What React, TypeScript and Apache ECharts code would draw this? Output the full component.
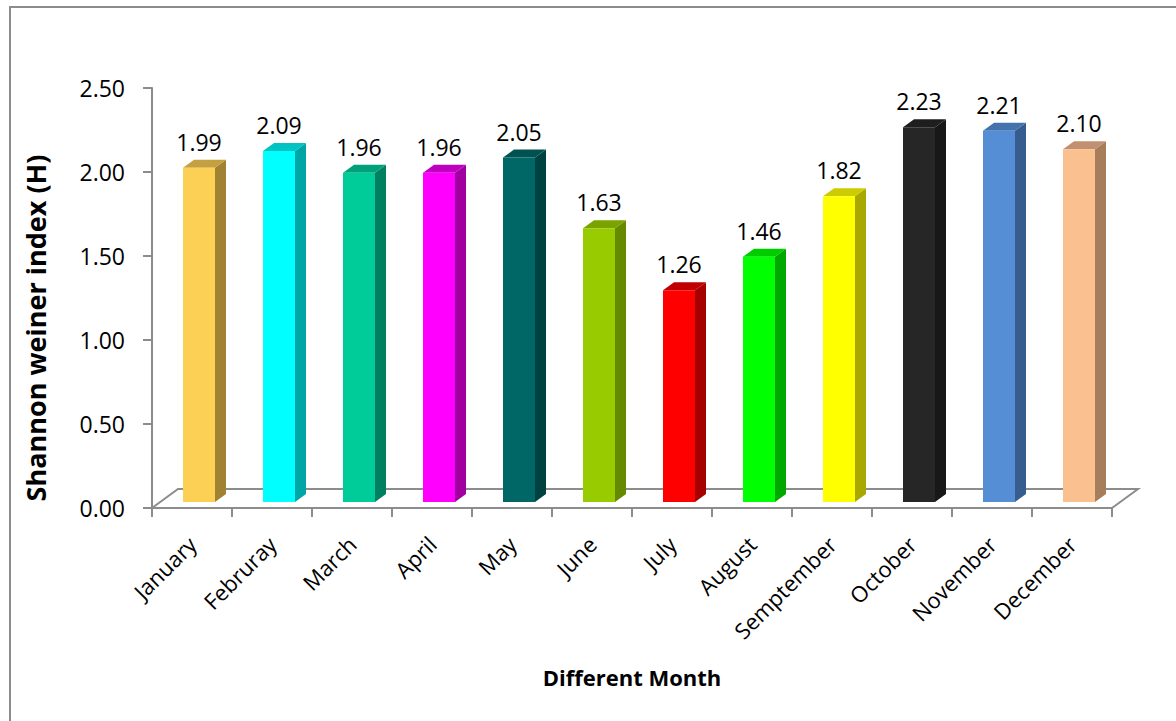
import React, { useEffect, useRef } from "react";
import * as echarts from "echarts";

const months = [
  "January", "Februray", "March", "April", "May", "June",
  "July", "August", "Semptember", "October", "November", "December",
];
const shannonIndex = [1.99, 2.09, 1.96, 1.96, 2.05, 1.63, 1.26, 1.46, 1.82, 2.23, 2.21, 2.1];
const frontColors = [
  "#FCD055", "#00FFFF", "#00CC99", "#FF00FF", "#006666", "#99CC00",
  "#FF0000", "#00FF00", "#FFFF00", "#262626", "#558ED5", "#FAC090",
];
const sideColors = [
  "#A08232", "#00A6A6", "#008060", "#A000A0", "#004242", "#658A00",
  "#A60000", "#00A800", "#A8A800", "#181818", "#375D8F", "#A67E5C",
];
const topColors = [
  "#C4A040", "#00C4C4", "#00A07A", "#C000C0", "#005252", "#7AA300",
  "#C00000", "#00CC00", "#CCCC00", "#1E1E1E", "#4372AD", "#C09070",
];
const yTicks = [0, 0.5, 1, 1.5, 2, 2.5];
const yTitle = "Shannon weiner index (H)";
const xTitle = "Different Month";

const FONT = "'Open Sans', sans-serif";
const AXIS_GRAY = "#8C8C8C";

// depth offset of the pseudo-3D bars and of the floor
const BAR_DX = 11;
const BAR_DY = 8;
const FLOOR_DX = 26;
const FLOOR_DY = 19;
const BAR_LIFT = 6;

export default function App() {
  const ref = useRef<HTMLDivElement>(null);

  useEffect(() => {
    if (!ref.current) return;
    const chart = echarts.init(ref.current, null, { renderer: "svg" });

    const renderItem = (params: any, api: any) => {
      const i = api.value(0);
      const v = api.value(1);
      const top = api.coord([i, v]);
      const base = api.coord([i, 0]);
      const xl = top[0] - 9;
      const xr = top[0] + 23;
      const yt = top[1] - BAR_LIFT;
      const yb = base[1] - BAR_LIFT;
      const children: any[] = [];

      if (params.dataIndex === 0) {
        const cs = params.coordSys;
        const x0 = cs.x;
        const x1 = cs.x + cs.width;
        const y0 = cs.y + cs.height;
        children.push({
          type: "polyline",
          shape: {
            points: [
              [x0, y0],
              [x0 + FLOOR_DX, y0 - FLOOR_DY],
              [x1 + FLOOR_DX, y0 - FLOOR_DY],
              [x1, y0],
            ],
          },
          style: { stroke: AXIS_GRAY, lineWidth: 2, fill: "none" },
        });
      }

      children.push({
        type: "polygon",
        shape: {
          points: [
            [xr, yt],
            [xr + BAR_DX, yt - BAR_DY],
            [xr + BAR_DX, yb - BAR_DY],
            [xr, yb],
          ],
        },
        style: { fill: sideColors[i] },
      });
      children.push({
        type: "polygon",
        shape: {
          points: [
            [xl, yt],
            [xl + BAR_DX, yt - BAR_DY],
            [xr + BAR_DX, yt - BAR_DY],
            [xr, yt],
          ],
        },
        style: { fill: topColors[i] },
      });
      children.push({
        type: "rect",
        shape: { x: xl, y: yt, width: xr - xl, height: yb - yt },
        style: { fill: frontColors[i] },
      });
      children.push({
        type: "text",
        x: (xl + xr) / 2,
        y: yt - 26,
        style: {
          text: v.toFixed(2),
          fill: "#000",
          font: `23px ${FONT}`,
          align: "center",
          verticalAlign: "middle",
        },
      });
      return { type: "group", children };
    };

    chart.setOption({
      animation: false,
      backgroundColor: "#fff",
      graphic: [
        {
          type: "rect",
          shape: { x: 10, y: 7, width: 1300, height: 900 },
          style: { fill: "none", stroke: AXIS_GRAY, lineWidth: 2 },
          silent: true,
        },
        {
          type: "text",
          x: 35,
          y: 328,
          rotation: Math.PI / 2,
          style: {
            text: yTitle,
            fill: "#000",
            font: `bold 27px ${FONT}`,
            align: "center",
            verticalAlign: "middle",
          },
          silent: true,
        },
      ],
      grid: { left: 152, right: 64, top: 88, bottom: 213, containLabel: false },
      xAxis: {
        type: "category",
        data: months,
        boundaryGap: true,
        name: xTitle,
        nameLocation: "middle",
        nameGap: 158,
        nameTextStyle: { fontFamily: FONT, fontSize: 22, fontWeight: "bold", color: "#000" },
        axisLine: { show: true, lineStyle: { color: AXIS_GRAY, width: 2 } },
        axisTick: { show: true, length: 9, lineStyle: { color: AXIS_GRAY, width: 2 } },
        axisLabel: {
          rotate: 45,
          margin: 32,
          fontFamily: FONT,
          fontSize: 22,
          color: "#000",
          interval: 0,
        },
        splitLine: { show: false },
      },
      yAxis: {
        type: "value",
        min: yTicks[0],
        max: yTicks[yTicks.length - 1],
        interval: yTicks[1] - yTicks[0],
        axisLine: { show: true, lineStyle: { color: AXIS_GRAY, width: 2 } },
        axisTick: { show: true, length: 9, lineStyle: { color: AXIS_GRAY, width: 2 } },
        axisLabel: {
          margin: 27,
          fontFamily: FONT,
          fontSize: 23,
          color: "#000",
          formatter: (val: number) => val.toFixed(2),
        },
        splitLine: { show: false },
      },
      series: [
        {
          type: "custom",
          renderItem,
          clip: false,
          data: shannonIndex.map((v, i) => [i, v]),
          encode: { x: 0, y: 1 },
        },
      ],
    });

    return () => chart.dispose();
  }, []);

  return (
    <div
      ref={ref}
      style={{ position: "fixed", left: 0, top: 0, width: 1176, height: 721 }}
    />
  );
}
